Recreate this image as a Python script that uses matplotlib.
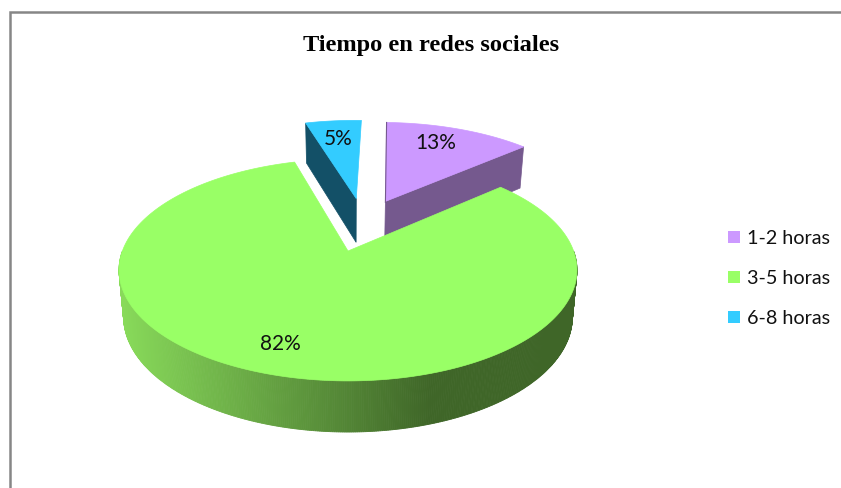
import numpy as np
import matplotlib
matplotlib.use("Agg")
import matplotlib.pyplot as plt
from matplotlib.colors import to_rgb
from matplotlib.patches import Polygon, Rectangle

TITLE = "Tiempo en redes sociales"
LABELS = ["1-2 horas", "3-5 horas", "6-8 horas"]
VALUES = [13, 82, 5]

TOP_COLORS = ["#cc99ff", "#99ff66", "#33ccff"]
WALL_COLORS = ["#75598e", "#3f6628", "#135067"]
GREEN_LIGHT = "#88da5a"

# how far each slice is pulled out of the pie, in disc units (u right, v back)
EXPLODE = [(0.18, 0.50), (0.0, 0.0), (0.04, 0.53)]
START_ANGLE = 2

# perspective of the disc, in picture pixels
CX, CY = 348, 251
B, A, K = 225.6, 107.7, 0.171
DEPTH, DEPTH_K, BASE_SCALE = 46, 0.10, 0.98


def project(u, v, bottom=False):
    u, v = np.asarray(u, float), np.asarray(v, float)
    x = CX + B * u / (1 + K * v)
    y = CY - A * v / (1 + K * v)
    if bottom:
        x = CX + (x - CX) * BASE_SCALE
        y = y + DEPTH / (1 + DEPTH_K * v)
    return x, y


def poly(ax, x, y, color, z, lw=0.0):
    ax.add_patch(Polygon(np.column_stack([x, y]), closed=True, facecolor=color,
                         edgecolor=color, linewidth=lw, zorder=z))


fig = plt.figure(figsize=(8.41, 4.88), dpi=100)
ax = fig.add_axes([0, 0, 1, 1])
ax.set_xlim(0, 841)
ax.set_ylim(488, 0)
ax.axis("off")

# chart frame, only the left and top edges are in the crop
ax.plot([10, 10, 841], [488, 12, 12], color="#868686", lw=1.8, solid_joinstyle="miter")

# slice angles, clockwise from 12 o'clock
edges = np.radians(START_ANGLE + np.cumsum([0] + VALUES) * 3.6)

slices = []
for i in range(3):
    th = np.linspace(edges[i], edges[i + 1], 240)
    du, dv = EXPLODE[i]
    slices.append((th, du, dv))

# purple and blue sit behind the big slice
for i, apex_end in [(0, 1), (2, 0)]:
    th, du, dv = slices[i]
    ang = th[-1] if apex_end == 1 else th[0]
    ue, ve = du + np.sin(ang), dv + np.cos(ang)
    xt, yt = project([du, ue], [dv, ve])
    xb, yb = project([du, ue], [dv, ve], bottom=True)
    poly(ax, [xt[0], xt[1], xb[1], xb[0]], [yt[0], yt[1], yb[1], yb[0]], WALL_COLORS[i], 2, 0.5)
    xr, yr = project(du + np.sin(th), dv + np.cos(th))
    xa, ya = project(du, dv)
    poly(ax, np.r_[xa, xr], np.r_[ya, yr], TOP_COLORS[i], 3, 0.5)

# purple has a thin dark edge on its left side
th, du, dv = slices[0]
xa, ya = project(du, dv)
xr, yr = project(du + np.sin(th[0]), dv + np.cos(th[0]))
ax.plot([xa, xr], [ya + 1, yr], color=WALL_COLORS[0], lw=0.8, zorder=3.5)

# big slice: side wall is shaded left to right, flat dark past x = 430
th, du, dv = slices[1]
light, dark = np.array(to_rgb(GREEN_LIGHT)), np.array(to_rgb(WALL_COLORS[1]))
front = np.linspace(np.radians(90), np.radians(270), 400)
for a0, a1 in zip(front[:-1], front[1:]):
    ang = np.array([a0, a1])
    xt, yt = project(np.sin(ang), np.cos(ang))
    xb, yb = project(np.sin(ang), np.cos(ang), bottom=True)
    f = np.clip((xt.mean() - 120) / (430 - 120), 0, 1)
    c = light + (dark - light) * f
    poly(ax, np.r_[xt, xb[::-1]], np.r_[yt, yb[::-1]], c, 4, 0.6)

xr, yr = project(np.sin(th), np.cos(th))
xa, ya = project(du, dv)
poly(ax, np.r_[xa, xr], np.r_[ya, yr], TOP_COLORS[1], 5, 0.5)

# text
ax.text(431, 45, TITLE, ha="center", va="center", fontsize=17.6, fontweight="bold",
        family="Liberation Serif", color="black", zorder=6)

PCT_POS = [(436, 143), (280, 344), (338, 139)]
for v, (px, py) in zip(VALUES, PCT_POS):
    ax.text(px, py, f"{v}%", ha="center", va="center", fontsize=15,
            family="Lato", color="#111111", zorder=6)

LEGEND_Y = [237, 277, 317]
for lab, col, ly in zip(LABELS, TOP_COLORS, LEGEND_Y):
    ax.add_patch(Rectangle((728, ly - 6), 12, 12, facecolor=col, edgecolor="none", zorder=6))
    ax.text(747, ly + 1, lab, ha="left", va="center", fontsize=14.2,
            family="Lato", color="#111111", zorder=6)

fig.savefig("out.png", dpi=100)
plt.close(fig)
